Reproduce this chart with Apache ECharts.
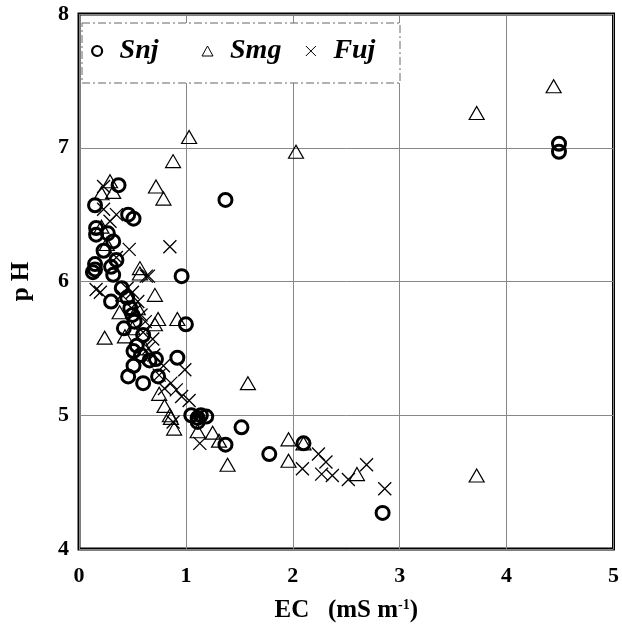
<!DOCTYPE html>
<html>
<head>
<meta charset="utf-8">
<script src="https://cdn.jsdelivr.net/npm/echarts@6/dist/echarts.min.js"></script>
<style>
  html, body { margin: 0; padding: 0; background: #fff; }
  #chart { width: 622px; height: 632px; }
</style>
</head>
<body>
<div id="chart"></div>
<script>
// EC (mS m-1) vs pH, three sites
var seriesNames = ['Snj', 'Smg', 'Fuj'];

var snj = [
  [0.15, 6.57], [0.37, 6.72], [0.46, 6.50], [0.51, 6.47], [0.16, 6.40], [0.16, 6.35],
  [0.27, 6.36], [0.32, 6.30], [0.23, 6.23], [0.15, 6.13], [0.15, 6.09], [0.30, 6.11],
  [0.35, 6.16], [0.13, 6.07], [0.32, 6.05], [0.96, 6.04], [0.30, 5.85], [0.40, 5.95],
  [0.45, 5.88], [0.48, 5.80], [0.50, 5.75], [0.52, 5.70], [0.42, 5.65], [1.00, 5.68],
  [0.54, 5.52], [0.51, 5.48], [0.72, 5.42], [0.92, 5.43], [0.66, 5.41], [0.51, 5.37],
  [0.46, 5.29], [0.60, 5.24], [0.74, 5.29], [1.05, 5.00], [1.11, 4.98], [1.14, 5.00],
  [1.19, 4.99], [1.11, 4.95], [1.37, 4.78], [1.52, 4.91], [1.78, 4.71], [2.10, 4.79],
  [2.84, 4.27], [1.37, 6.61], [4.49, 7.03], [4.49, 6.97], [0.60, 5.60], [0.58, 5.45]
];

var smg = [
  [0.29, 6.75], [0.21, 6.66], [0.32, 6.67], [0.72, 6.71], [0.79, 6.62], [0.88, 6.90],
  [1.03, 7.08], [2.03, 6.97], [3.72, 7.26], [4.44, 7.46], [0.21, 6.41], [0.26, 6.28],
  [0.57, 6.10], [0.57, 6.06], [0.71, 5.90], [0.38, 5.77], [0.74, 5.72], [0.71, 5.68],
  [0.92, 5.72], [0.24, 5.58], [0.43, 5.59], [0.75, 5.16], [0.80, 5.07], [0.85, 5.00],
  [0.86, 4.98], [0.89, 4.90], [1.11, 4.88], [1.25, 4.87], [1.31, 4.81], [1.39, 4.63],
  [1.58, 5.24], [1.96, 4.82], [1.96, 4.66], [2.10, 4.79], [2.60, 4.56], [3.72, 4.55],
  [0.45, 5.90], [0.55, 5.80], [0.50, 5.65], [0.62, 5.50]
];

var fuj = [
  [0.23, 6.71], [0.23, 6.54], [0.35, 6.50], [0.29, 6.45], [0.47, 6.24], [0.85, 6.26],
  [0.35, 6.18], [0.65, 6.04], [0.63, 6.04], [0.16, 5.94], [0.20, 5.92], [0.40, 5.90],
  [0.45, 5.95], [0.50, 5.92], [0.55, 5.85], [0.52, 5.78], [0.58, 5.75], [0.62, 5.70],
  [0.69, 5.57], [0.60, 5.62], [0.65, 5.50], [0.79, 5.37], [0.99, 5.34], [0.86, 5.24],
  [0.91, 5.19], [0.96, 5.14], [1.03, 5.11], [0.88, 4.95], [1.13, 4.79], [2.24, 4.71],
  [2.31, 4.65], [2.09, 4.60], [2.27, 4.56], [2.37, 4.55], [2.52, 4.52], [2.69, 4.63],
  [2.86, 4.45], [0.70, 5.45], [0.75, 5.30], [0.80, 5.20]
];

var serif = '"Liberation Serif", "DejaVu Serif", serif';
var crossPath = 'path://M0,0L10,10M10,0L0,10';

var myChart = echarts.init(document.getElementById('chart'));

var option = {
  backgroundColor: '#fff',
  animation: false,
  grid: {
    left: 79, right: 7, top: 14, bottom: 83,
    show: true, borderColor: '#000', borderWidth: 3
  },
  xAxis: {
    type: 'value', min: 0, max: 5, interval: 1,
    name: '{b|EC   (mS m}{s|-1}{b|)}',
    nameLocation: 'middle', nameGap: 49,
    nameTextStyle: {
      rich: {
        b: { fontFamily: serif, fontWeight: 'bold', fontSize: 25, color: '#000' },
        s: { fontFamily: serif, fontWeight: 'bold', fontSize: 14, color: '#000', verticalAlign: 'top', padding: [0, 0, 12, 0] }
      }
    },
    axisLine: { show: false },
    axisTick: { show: false },
    axisLabel: { fontFamily: serif, fontWeight: 'bold', fontSize: 22, color: '#000', margin: 16 },
    splitLine: { show: true, lineStyle: { color: '#888', width: 1 } }
  },
  yAxis: {
    type: 'value', min: 4, max: 8, interval: 1,
    name: 'p H', nameLocation: 'middle', nameGap: 45, nameRotate: 90,
    nameTextStyle: { fontFamily: serif, fontWeight: 'bold', fontSize: 25, color: '#000' },
    axisLine: { show: false },
    axisTick: { show: false },
    axisLabel: { fontFamily: serif, fontWeight: 'bold', fontSize: 22, color: '#000', margin: 10 },
    splitLine: { show: true, lineStyle: { color: '#888', width: 1 } }
  },
  legend: {
    left: 86, top: 32, itemGap: 22, itemWidth: 11, itemHeight: 10, z: 60,
    formatter: function (name) {
      return name === 'Snj' ? name + '   ' : name;
    },
    data: [
      { name: 'Snj', icon: 'circle', itemStyle: { color: '#fff', borderColor: '#000', borderWidth: 2.2 } },
      { name: 'Smg', icon: 'triangle', itemStyle: { color: '#fff', borderColor: '#000', borderWidth: 1 } },
      { name: 'Fuj', icon: crossPath, itemStyle: { color: 'none', borderColor: '#000', borderWidth: 1 } }
    ],
    textStyle: { fontFamily: serif, fontWeight: 'bold', fontStyle: 'italic', fontSize: 28, color: '#000', padding: [0, 0, 0, 12] }
  },
  graphic: [{
    type: 'rect', z: 40, silent: true,
    shape: { x: 82, y: 23, width: 318, height: 60 },
    style: { fill: '#fff', stroke: '#666', lineWidth: 1, lineDash: [8, 3, 2, 3] }
  }],
  series: [
    {
      name: 'Snj', type: 'scatter', data: snj, symbol: 'circle', symbolSize: 13, z: 3,
      itemStyle: { color: 'rgba(255,255,255,0)', borderColor: '#000', borderWidth: 3, opacity: 1 }
    },
    {
      name: 'Smg', type: 'scatter', data: smg, symbol: 'triangle', symbolSize: [15, 13], z: 4,
      itemStyle: { color: 'rgba(255,255,255,0)', borderColor: '#000', borderWidth: 1.2, opacity: 1 }
    },
    {
      name: 'Fuj', type: 'scatter', data: fuj, symbol: crossPath, symbolSize: 13, z: 5,
      itemStyle: { color: 'none', borderColor: '#000', borderWidth: 1.3, opacity: 1 }
    }
  ]
};

myChart.setOption(option);
</script>
</body>
</html>
